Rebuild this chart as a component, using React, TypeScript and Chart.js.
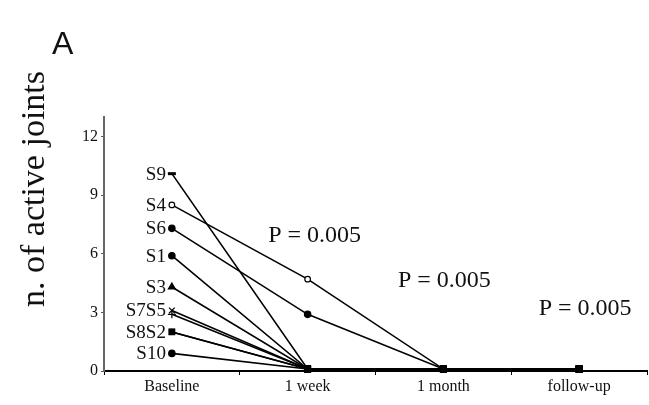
import React, { useEffect, useRef } from "react";
import { Chart, registerables } from "chart.js";

Chart.register(...registerables);

const categories = ["Baseline", "1 week", "1 month", "follow-up"];
const subjectLabels = ["S9", "S4", "S6", "S1", "S3", "S7", "S5", "S8", "S2", "S10"];
const s9 = [10.1, 0.1, 0.1, 0.1];
const s4 = [8.5, 4.7, 0.1, 0.1];
const s6 = [7.3, 2.9, 0.1, 0.1];
const s1 = [5.9, 0.1, 0.1, 0.1];
const s3 = [4.3, 0.1, 0.1, 0.1];
const s7 = [3.1, 0.1, 0.1, 0.1];
const s5 = [2.9, 0.1, 0.1, 0.1];
const s8 = [2.0, 0.1, 0.1, 0.1];
const s2 = [2.0, 0.1, 0.1, 0.1];
const s10 = [0.9, 0.1, 0.1, 0.1];
const seriesValues = [s9, s4, s6, s1, s3, s7, s5, s8, s2, s10];
const yTickValues = [0, 3, 6, 9, 12];
const pLabels = ["P = 0.005", "P = 0.005", "P = 0.005"];
const pYValues = [6.9, 4.6, 3.2];
const labelGroups = [
  ["S9", 0], ["S4", 1], ["S6", 2], ["S1", 3], ["S3", 4],
  ["S7S5", 5], ["S8S2", 7], ["S10", 9],
];

const baseStyles: any[] = [
  { style: "line", fill: "#000", r: 4 },
  { style: "circle", fill: "#fff", r: 2.8 },
  { style: "circle", fill: "#000", r: 3.2 },
  { style: "circle", fill: "#000", r: 3.2 },
  { style: "triangle", fill: "#000", r: 4 },
  { style: "crossRot", fill: "#000", r: 4 },
  { style: "cross", fill: "#000", r: 4 },
  { style: "rect", fill: "#000", r: 4 },
  { style: "rect", fill: "#fff", r: 3.5 },
  { style: "circle", fill: "#000", r: 3.2 },
];

const SERIF = "'Liberation Serif', 'Times New Roman', serif";

const textPlugin = {
  id: "texts",
  afterDraw(chart: any) {
    const ctx = chart.ctx;
    const x = chart.scales.x;
    const y = chart.scales.y;
    ctx.save();
    ctx.fillStyle = "#111";
    ctx.font = `19px ${SERIF}`;
    ctx.textAlign = "right";
    ctx.textBaseline = "middle";
    labelGroups.forEach(([txt, idx]: any) => {
      const pt = chart.getDatasetMeta(idx).data[0];
      ctx.fillText(txt, pt.x - 6, pt.y + 1);
    });
    ctx.font = `24px ${SERIF}`;
    ctx.textAlign = "center";
    const offs = [7, 1, 6];
    pLabels.forEach((t, i) => {
      const px = x.getPixelForValue(i + 1) + offs[i];
      ctx.fillText(t, px, y.getPixelForValue(pYValues[i]));
    });
    ctx.save();
    ctx.translate(35, 189);
    ctx.rotate(-Math.PI / 2);
    ctx.font = `34px ${SERIF}`;
    ctx.textAlign = "center";
    ctx.textBaseline = "middle";
    ctx.fillText("n. of active joints", 0, 0);
    ctx.restore();
    ctx.font = `32px 'Liberation Sans', Arial, sans-serif`;
    ctx.textAlign = "left";
    ctx.textBaseline = "alphabetic";
    ctx.fillText("A", 52, 54);
    ctx.restore();
  },
};

export default function App() {
  const ref = useRef<HTMLCanvasElement | null>(null);
  useEffect(() => {
    if (!ref.current) return;
    const datasets = seriesValues.map((vals, i) => {
      const b = baseStyles[i];
      const styles = vals.map((_, j) => (j === 0 ? b.style : "rect"));
      const fills = vals.map((_, j) => (j === 0 ? b.fill : "#000"));
      const radii = vals.map((_, j) => (j === 0 ? b.r : 4));
      if (i === 1) { styles[1] = "circle"; fills[1] = "#fff"; radii[1] = 2.8; }
      if (i === 2) { styles[1] = "circle"; fills[1] = "#000"; radii[1] = 3.2; }
      return {
        label: subjectLabels[i],
        data: vals,
        borderColor: "#000",
        borderWidth: 1.6,
        pointStyle: styles,
        pointBackgroundColor: fills,
        pointBorderColor: "#000",
        pointBorderWidth: vals.map((_, j) => (j === 0 && i === 0 ? 3 : 1.2)),
        pointRadius: radii,
        tension: 0,
        fill: false,
        clip: false,
      };
    });
    const chart = new Chart(ref.current, {
      type: "line",
      data: { labels: categories, datasets },
      options: {
        animation: false,
        responsive: false,
        events: [],
        layout: { padding: { top: 117, left: 0, right: 0, bottom: 0 } },
        plugins: { legend: { display: false }, tooltip: { enabled: false } },
        scales: {
          x: {
            offset: true,
            grid: { display: true, drawOnChartArea: false, drawTicks: true, tickLength: 4, offset: true, color: "#000" },
            border: { color: "#000", width: 2 },
            ticks: { color: "#111", font: { family: SERIF, size: 16 }, padding: 2 },
            afterFit: (s: any) => { s.height = 34; },
          },
          y: {
            min: 0,
            max: 13,
            afterBuildTicks: (s: any) => { s.ticks = yTickValues.map((v) => ({ value: v })); },
            grid: { display: true, drawOnChartArea: false, drawTicks: true, tickLength: 3, color: "#555" },
            border: { color: "#666", width: 2 },
            ticks: { color: "#111", font: { family: SERIF, size: 16 }, padding: 3 },
            afterFit: (s: any) => { s.width = 104; },
          },
        },
      },
      plugins: [textPlugin],
    });
    return () => chart.destroy();
  }, []);
  return (
    <div style={{ position: "fixed", left: 0, top: 0, width: 649, height: 405, overflow: "hidden", background: "#fff" }}>
      <canvas ref={ref} width={654} height={405} style={{ width: 654, height: 405 }} />
    </div>
  );
}
